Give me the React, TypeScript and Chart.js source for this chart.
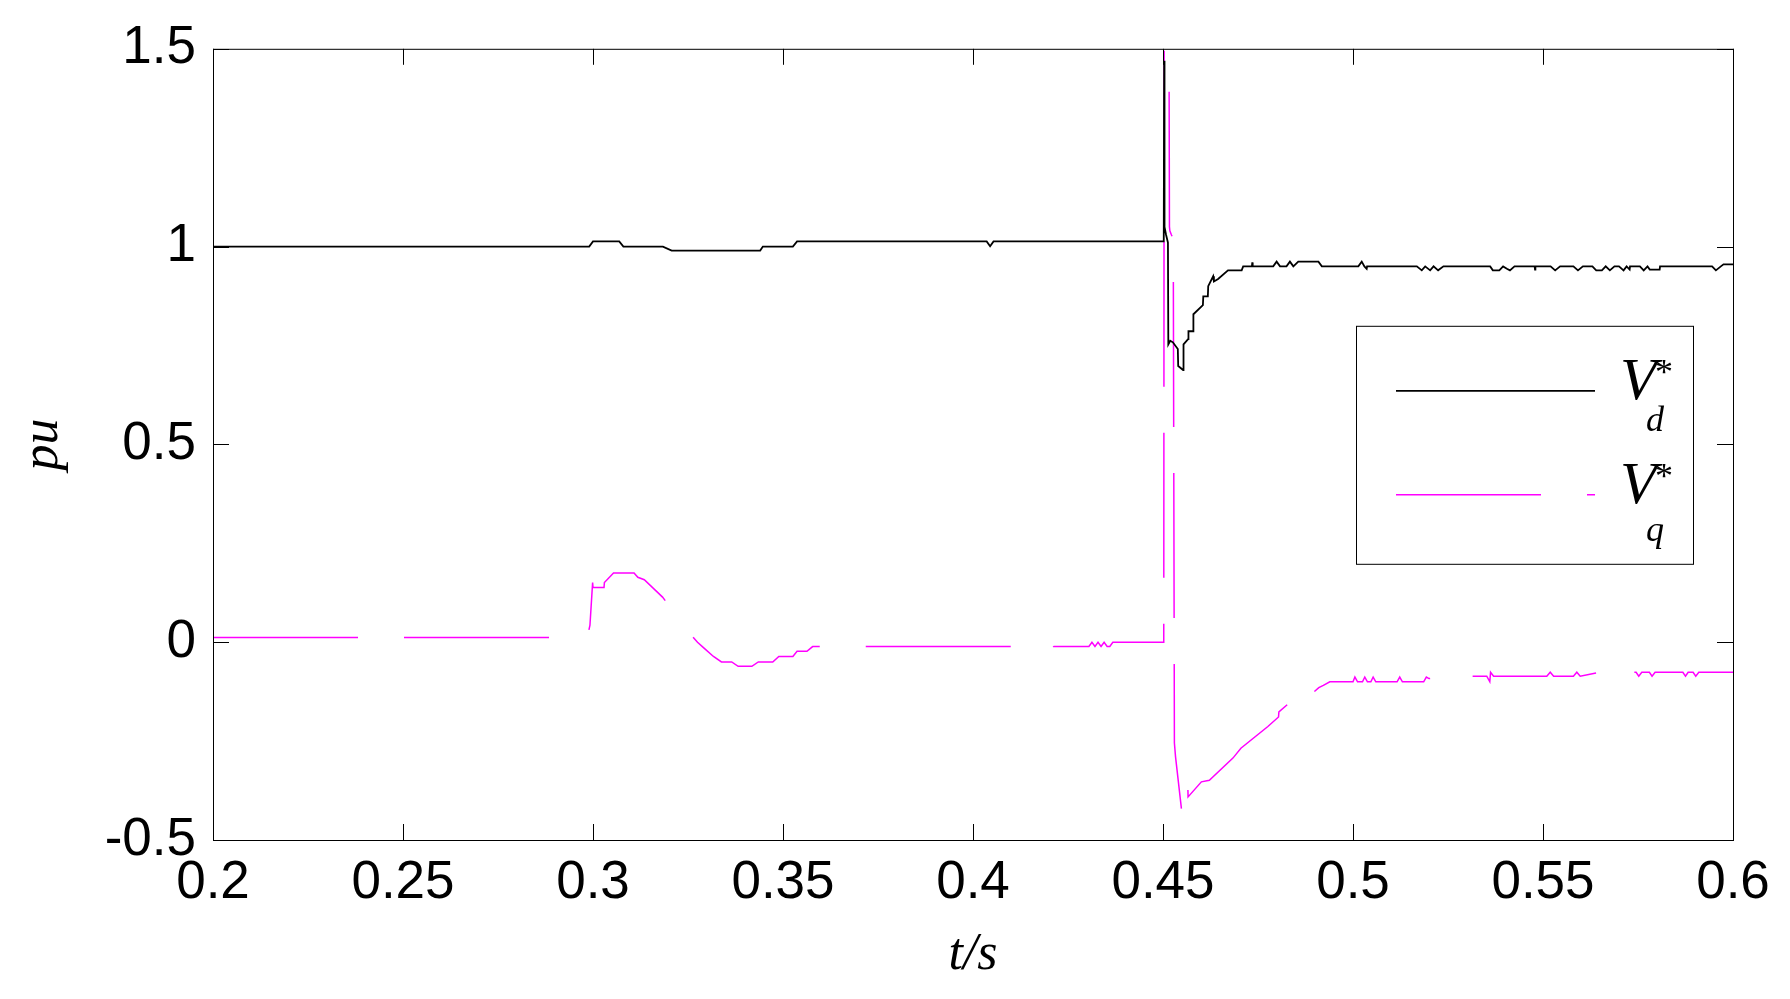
import React, { useEffect, useRef } from 'react';
import { Chart, registerables } from 'chart.js';

Chart.register(...registerables);

// ---- data ----
const vdTime = [
  0.2, 0.299, 0.3, 0.3069, 0.308, 0.3184, 0.3207, 0.344, 0.3447, 0.3526, 0.3537,
  0.4036, 0.4045, 0.4054, 0.4502, 0.4503, 0.4504, 0.4508, 0.4513, 0.4514, 0.4519,
  0.4526, 0.4539, 0.454, 0.4553, 0.4554, 0.4566, 0.4567, 0.4579, 0.458, 0.4605,
  0.4606, 0.4618, 0.4619, 0.4632, 0.4634, 0.4645, 0.4671, 0.4707, 0.4711, 0.4734,
  0.4735, 0.4736, 0.479, 0.4799, 0.4808, 0.4825, 0.4834, 0.4843, 0.4856, 0.4909,
  0.4918, 0.5014, 0.5023, 0.503, 0.5036, 0.5037, 0.5168, 0.5181, 0.519, 0.5203,
  0.5212, 0.5224, 0.5238, 0.5361, 0.5368, 0.5385, 0.5395, 0.5405, 0.5413, 0.5425,
  0.5478, 0.5479, 0.548, 0.552, 0.5532, 0.5545, 0.558, 0.5592, 0.5605, 0.563,
  0.564, 0.5655, 0.5665, 0.5676, 0.5688, 0.57, 0.5712, 0.572, 0.5728, 0.5729,
  0.5755, 0.5765, 0.5775, 0.5781, 0.5807, 0.5808, 0.5945, 0.5955, 0.5968, 0.5975, 0.6,
];
const vdValues = [
  1.0, 1.0, 1.013, 1.013, 1.0, 1.0, 0.99, 0.99, 1.0, 1.0, 1.013,
  1.013, 1.001, 1.013, 1.013, 1.47, 1.05, 1.03, 1.01, 0.753, 0.762,
  0.758, 0.741, 0.698, 0.688, 0.753, 0.766, 0.786, 0.786, 0.829, 0.852,
  0.874, 0.874, 0.9, 0.925, 0.912, 0.918, 0.94, 0.94, 0.95, 0.95,
  0.96, 0.95, 0.95, 0.962, 0.95, 0.95, 0.962, 0.95, 0.962, 0.962,
  0.95, 0.95, 0.962, 0.95, 0.944, 0.95, 0.95, 0.94, 0.95, 0.94,
  0.95, 0.94, 0.95, 0.95, 0.94, 0.94, 0.95, 0.944, 0.94, 0.95,
  0.95, 0.942, 0.95, 0.95, 0.94, 0.95, 0.95, 0.94, 0.95, 0.95,
  0.94, 0.94, 0.95, 0.94, 0.95, 0.95, 0.94, 0.95, 0.942, 0.95,
  0.95, 0.94, 0.95, 0.942, 0.942, 0.95, 0.95, 0.94, 0.95, 0.955, 0.955,
];

const vqTime = [
  0.2, 0.2985, 0.2992, 0.2999, 0.3, 0.3029, 0.303, 0.3054, 0.3108, 0.3118, 0.3135,
  0.3183, 0.3263, 0.3275, 0.329, 0.3317, 0.3338, 0.3365, 0.3382, 0.3418, 0.3435,
  0.3473, 0.3489, 0.3526, 0.3537, 0.3563, 0.3578, 0.419, 0.42, 0.4212, 0.4305,
  0.4313, 0.4321, 0.4329, 0.4337, 0.4345, 0.4353, 0.436, 0.4368, 0.4502, 0.4503,
  0.4505, 0.4512, 0.4516, 0.4517, 0.4518, 0.4522, 0.4527, 0.453, 0.4533, 0.4549,
  0.455, 0.4565, 0.4566, 0.4601, 0.4622, 0.4684, 0.4705, 0.4776, 0.4804, 0.4805,
  0.4843, 0.4868, 0.4892, 0.4894, 0.4897, 0.491, 0.4922, 0.4939, 0.5, 0.5005,
  0.5012, 0.5025, 0.5031, 0.5038, 0.5047, 0.5053, 0.506, 0.5116, 0.5123, 0.513,
  0.5186, 0.5193, 0.52, 0.5281, 0.5294, 0.5305, 0.5352, 0.536, 0.5362, 0.537,
  0.551, 0.5519, 0.5528, 0.558, 0.5589, 0.5598, 0.5648, 0.5655, 0.5662, 0.57,
  0.5708, 0.572, 0.5745, 0.5752, 0.576, 0.578, 0.5787, 0.5795, 0.5868, 0.5875,
  0.5882, 0.5895, 0.5902, 0.591, 0.5985, 0.6,
];
const vqValues = [
  0.012, 0.012, 0.043, 0.151, 0.138, 0.138, 0.151, 0.175, 0.175, 0.164, 0.158,
  0.114, 0.013, 0.0, -0.013, -0.036, -0.05, -0.05, -0.061, -0.061, -0.05,
  -0.05, -0.036, -0.036, -0.023, -0.023, -0.011, -0.011, 0.0, -0.011, -0.011,
  0.0, -0.011, 0.0, -0.011, 0.0, -0.011, -0.011, 0.0, 0.0, 1.5,
  1.47, 1.46, 1.45, 1.05, 1.04, 1.03, 1.02, -0.255, -0.29, -0.425,
  -0.353, -0.349, -0.391, -0.353, -0.349, -0.293, -0.268, -0.213, -0.189, -0.176,
  -0.145, -0.126, -0.126, -0.106, -0.126, -0.115, -0.109, -0.1, -0.1, -0.088,
  -0.1, -0.1, -0.088, -0.1, -0.1, -0.088, -0.1, -0.1, -0.088, -0.1,
  -0.1, -0.088, -0.092, -0.088, -0.076, -0.086, -0.086, -0.1, -0.076, -0.086,
  -0.086, -0.076, -0.086, -0.086, -0.076, -0.086, -0.076, -0.086, -0.076, -0.076,
  -0.086, -0.076, -0.076, -0.086, -0.076, -0.076, -0.086, -0.076, -0.076, -0.086,
  -0.076, -0.076, -0.086, -0.076, -0.076, -0.076,
];

const xTicks = [0.2, 0.25, 0.3, 0.35, 0.4, 0.45, 0.5, 0.55, 0.6];
const xTickLabels = ['0.2', '0.25', '0.3', '0.35', '0.4', '0.45', '0.5', '0.55', '0.6'];
const yTicks = [-0.5, 0, 0.5, 1, 1.5];
const yTickLabels = ['-0.5', '0', '0.5', '1', '1.5'];

const seriesMain = ['V', 'V'];
const seriesSub = ['d', 'q'];
const seriesColors = ['#000000', '#FF00FF'];
const xTitle = 't/s';
const yTitle = 'pu';

const SERIF = "'Liberation Serif', 'Times New Roman', serif";
const SANS = "'Liberation Sans', Arial, sans-serif";
const MAG_DASH = [145, 46];

const framePlugin = {
  id: 'frameTicks',
  afterDatasetsDraw(chart: any) {
    const { ctx, chartArea: a, scales } = chart;
    const L = 16;
    ctx.save();
    ctx.strokeStyle = '#000';
    ctx.lineWidth = 1;
    ctx.beginPath();
    scales.x.ticks.forEach((t: any) => {
      const px = Math.round(scales.x.getPixelForValue(t.value)) + 0.5;
      ctx.moveTo(px, a.bottom);
      ctx.lineTo(px, a.bottom - L);
      ctx.moveTo(px, a.top);
      ctx.lineTo(px, a.top + L);
    });
    scales.y.ticks.forEach((t: any) => {
      const py = Math.round(scales.y.getPixelForValue(t.value)) + 0.5;
      ctx.moveTo(a.left, py);
      ctx.lineTo(a.left + L, py);
      ctx.moveTo(a.right, py);
      ctx.lineTo(a.right - L, py);
    });
    ctx.stroke();
    ctx.strokeRect(a.left + 0.5, a.top + 0.5, a.right - a.left, a.bottom - a.top);
    ctx.restore();
  },
};

const legendPlugin = {
  id: 'mathLegend',
  afterDraw(chart: any) {
    const { ctx, chartArea: a } = chart;
    const bx = a.right - 377;
    const by = a.top + 277;
    const bw = 337;
    const bh = 238;
    ctx.save();
    ctx.fillStyle = '#fff';
    ctx.fillRect(bx, by, bw, bh);
    ctx.strokeStyle = '#000';
    ctx.lineWidth = 1;
    ctx.strokeRect(bx + 0.5, by + 0.5, bw, bh);
    const rowsY = [65, 169];
    chart.data.datasets.forEach((ds: any, i: number) => {
      const ly = by + rowsY[i];
      ctx.strokeStyle = ds.borderColor;
      ctx.lineWidth = ds.borderWidth;
      ctx.setLineDash(ds.borderDash || []);
      ctx.beginPath();
      ctx.moveTo(bx + 40, ly);
      ctx.lineTo(bx + 239, ly);
      ctx.stroke();
      ctx.setLineDash([]);
      ctx.fillStyle = '#000';
      ctx.textBaseline = 'alphabetic';
      ctx.textAlign = 'left';
      ctx.font = `italic 60px ${SERIF}`;
      ctx.fillText(seriesMain[i], bx + 264, ly + 8);
      ctx.font = `36px ${SERIF}`;
      ctx.fillText('*', bx + 299, ly - 7);
      ctx.font = `italic 36px ${SERIF}`;
      ctx.fillText(seriesSub[i], bx + 290, ly + (i === 0 ? 40 : 46));
    });
    ctx.restore();
  },
};

export default function App() {
  const ref = useRef<HTMLCanvasElement | null>(null);

  useEffect(() => {
    document.body.style.margin = '0';
    const canvas = ref.current;
    if (!canvas) return;
    const vdPoints = vdTime.map((t, i) => ({ x: t, y: vdValues[i] }));
    const vqPoints = vqTime.map((t, i) => ({ x: t, y: vqValues[i] }));
    const chart = new Chart(canvas, {
      type: 'line',
      data: {
        datasets: [
          {
            label: 'Vd*',
            data: vdPoints,
            borderColor: seriesColors[0],
            borderWidth: 1.8,
            pointRadius: 0,
            tension: 0,
            fill: false,
          },
          {
            label: 'Vq*',
            data: vqPoints,
            borderColor: seriesColors[1],
            borderWidth: 1.5,
            borderDash: MAG_DASH,
            pointRadius: 0,
            tension: 0,
            fill: false,
          },
        ],
      },
      options: {
        responsive: false,
        animation: false,
        devicePixelRatio: 1,
        layout: { padding: { left: 0, top: 47, right: 57, bottom: 0 } },
        plugins: {
          legend: { display: false },
          tooltip: { enabled: false },
        },
        scales: {
          x: {
            type: 'linear',
            min: 0.2,
            max: 0.6,
            afterBuildTicks: (s: any) => {
              s.ticks = xTicks.map((v) => ({ value: v }));
            },
            afterFit: (s: any) => {
              s.height = 159;
            },
            grid: { display: false, drawTicks: false },
            border: { display: false },
            ticks: {
              autoSkip: false,
              maxRotation: 0,
              padding: 12,
              color: '#000',
              font: { family: SANS, size: 53 },
              callback: (_v: any, i: number) => xTickLabels[i],
            },
            title: {
              display: true,
              text: xTitle,
              color: '#000',
              font: { family: SERIF, size: 52, style: 'italic' },
              padding: { top: 0, bottom: 12 },
            },
          },
          y: {
            type: 'linear',
            min: -0.5,
            max: 1.5,
            afterBuildTicks: (s: any) => {
              s.ticks = yTicks.map((v) => ({ value: v }));
            },
            afterFit: (s: any) => {
              s.width = 213;
            },
            grid: { display: false, drawTicks: false },
            border: { display: false },
            ticks: {
              padding: 17,
              color: '#000',
              font: { family: SANS, size: 53 },
              callback: (_v: any, i: number) => yTickLabels[i],
            },
            title: {
              display: true,
              text: yTitle,
              color: '#000',
              font: { family: SERIF, size: 52, style: 'italic' },
              padding: { top: 12, bottom: 0 },
            },
          },
        },
      },
      plugins: [framePlugin, legendPlugin],
    });
    return () => chart.destroy();
  }, []);

  return (
    <div style={{ width: 1790, height: 999, background: '#fff' }}>
      <canvas ref={ref} width={1790} height={999} style={{ display: 'block' }} />
    </div>
  );
}
